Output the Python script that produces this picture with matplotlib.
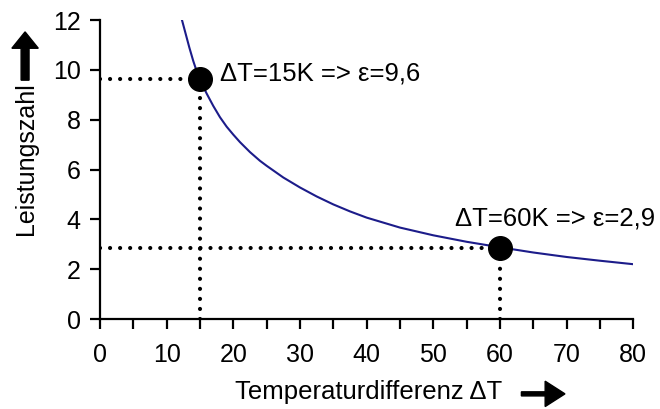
import matplotlib.pyplot as plt
import matplotlib.patches as mpatches
import numpy as np

plt.rcParams['font.family'] = ['Liberation Sans', 'DejaVu Sans']

# curve
dT = [12.3, 12.8, 13.4, 14, 14.5, 15, 16, 17, 18, 19, 20, 21, 22.5, 24, 25, 27.5, 30, 32.5, 35,
      37.5, 40, 45, 50, 55, 60, 65, 70, 75, 80]
eps = [12.0, 11.5, 10.9, 10.35, 9.95, 9.6, 9.05, 8.55, 8.1, 7.72, 7.4, 7.1, 6.7, 6.35, 6.15,
       5.68, 5.28, 4.92, 4.6, 4.32, 4.07, 3.67, 3.36, 3.1, 2.88, 2.67, 2.49, 2.34, 2.2]

pts_x = [15, 60]
pts_y = [9.65, 2.85]
labels = ['ΔT=15K => ε=9,6', 'ΔT=60K => ε=2,9']

fig = plt.figure(figsize=(6.6, 4.09), dpi=100)
ax = fig.add_axes([0.1515, 0.22, 0.808, 0.731])

ax.plot(dT, eps, color='#1c1c8a', lw=1.5, zorder=3)

for x, y in zip(pts_x, pts_y):
    ax.plot([0, x], [y, y], color='black', lw=3, ls=(0, (0.01, 2.4)),
            dash_capstyle='round', zorder=2)
    ax.plot([x, x], [0, y], color='black', lw=3, ls=(0, (0.01, 2.4)),
            dash_capstyle='round', zorder=2)
ax.plot(pts_x, pts_y, 'o', color='black', ms=17, zorder=4)

ax.text(18, 9.85, labels[0], fontsize=18.5, va='center', ha='left')
ax.text(53.3, 4.05, labels[1], fontsize=18.5, va='center', ha='left', clip_on=False)

ax.set_xlim(0, 80)
ax.set_ylim(0, 12)
ax.set_xticks(np.arange(0, 81, 10))
ax.set_xticks(np.arange(0, 81, 5), minor=True)
ax.set_yticks(np.arange(0, 13, 2))
for s in ['top', 'right']:
    ax.spines[s].set_visible(False)
for s in ['left', 'bottom']:
    ax.spines[s].set_linewidth(1.6)
ax.tick_params(axis='both', which='both', length=7, width=1.6, labelsize=18)
ax.tick_params(axis='x', pad=10)
ax.tick_params(axis='y', pad=7)

fig.text(0.356, 0.042, 'Temperaturdifferenz ΔT', fontsize=18.5, ha='left', va='center')
fig.text(0.04, 0.611, 'Leistungszahl', fontsize=18, rotation=90, ha='center', va='center')

fig.patches.append(mpatches.FancyArrow(
    0.79, 0.037, 0.066, 0, width=0.01, head_width=0.062, head_length=0.03,
    length_includes_head=True, color='black', transform=fig.transFigure))
fig.patches.append(mpatches.FancyArrow(
    0.038, 0.804, 0, 0.118, width=0.012, head_width=0.04, head_length=0.04,
    length_includes_head=True, color='black', transform=fig.transFigure))

fig.savefig('out.png', dpi=100)
